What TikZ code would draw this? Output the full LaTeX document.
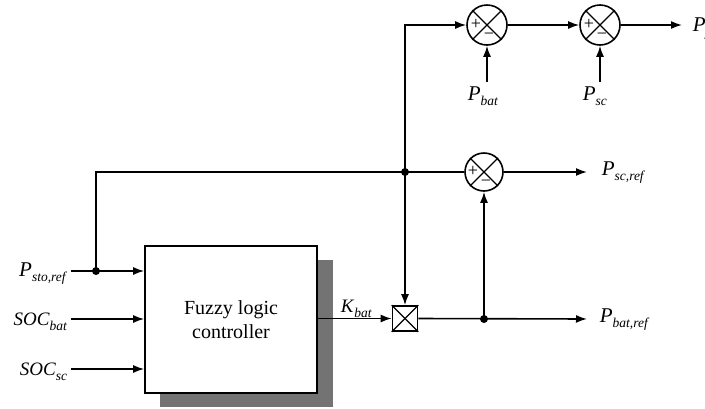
\documentclass[tikz,border=0pt]{standalone}
\usepackage{fontspec}
\setmainfont{Liberation Serif}
\usetikzlibrary{arrows.meta,calc}
\newcommand{\lbl}[2]{\textit{#1}\raisebox{-5pt}{\fontsize{13.5}{14}\selectfont\textit{#2}}}
\begin{document}
\begin{tikzpicture}[x=1pt,y=-1pt,
  line width=1.6pt,
  arr/.style={-{Latex[length=11pt,width=8pt]}},
  sumc/.style={circle,draw,line width=1.6pt,minimum size=40pt,inner sep=0pt},
  mulbox/.style={rectangle,draw,line width=1.6pt,minimum size=25pt,inner sep=0pt},
  dot/.style={circle,fill=black,inner sep=0pt,minimum size=8pt},
  lab/.style={font=\fontsize{21}{22}\selectfont,inner sep=0pt},
  sgn/.style={font=\fontsize{18}{18}\selectfont,inner sep=0pt}
]
\useasboundingbox (0,0) rectangle (705,408);
% shadow and fuzzy block
\fill[gray!90!black] (160,260) rectangle (333,407);
\node[draw,fill=white,line width=1.6pt,minimum width=172pt,minimum height=147pt,inner sep=0pt,
  align=center,font=\fontsize{20}{24}\selectfont] (fz) at (231,319.5) {Fuzzy logic\\controller};
% summing junctions
\node[sumc] (s1) at (487,25) {};
\node[sumc] (s2) at (600,25) {};
\node[sumc,minimum size=38pt] (s3) at (484,172) {};
\foreach \s in {s1,s2,s3}{
  \draw[line width=1.3pt] (\s.north west) -- (\s.south east);
  \draw[line width=1.3pt] (\s.north east) -- (\s.south west);
  \node[sgn] at ($(\s.center)+(-11,-1)$) {+};
  \node[sgn] at ($(\s.center)+(2,11)$) {\textminus};
}
% multiplier
\node[mulbox] (m) at (405,318.5) {};
\draw[line width=1.3pt] (m.north west) -- (m.south east);
\draw[line width=1.3pt] (m.north east) -- (m.south west);
% coordinates
\coordinate (i1) at (71,271);
\coordinate (i2) at (71,319);
\coordinate (i3) at (71,369);
\node[dot] (d1) at (96,271) {};
\node[dot] (d2) at (405,172) {};
\node[dot] (d3) at (484,319) {};
\coordinate (c1) at (96,172);
\coordinate (c2) at (405,25);
\coordinate (o1) at (682,25);
\coordinate (o2) at (587,172);
\coordinate (o3) at (587,319);
\coordinate (pb) at (487,82);
\coordinate (ps) at (600,82);
% inputs
\draw[arr] (i1) -- (fz.west |- i1);
\draw[arr] (i2) -- (fz.west |- i2);
\draw[arr] (i3) -- (fz.west |- i3);
\draw (d1.center) -- (c1) -- (d2.center) -- (s3.west);
\draw[arr] (d2.center) -- (m.north);
\draw[arr] (d2.center) -- (c2) -- (s1.west);
\draw[arr] (s1.east) -- (s2.west);
\draw[arr] (s2.east) -- (o1);
\draw[arr] (pb) -- (s1.south);
\draw[arr] (ps) -- (s2.south);
\draw[arr] (s3.east) -- (o2);
\draw[arr] (fz.east |- m.west) -- (m.west);
\draw[arr] (m.east) -- (o3);
\draw[arr] (d3.center) -- (s3.south);
% labels
\node[lab,anchor=base east] (l1) at (68,276) {\lbl{P}{sto,ref}};
\node[lab,anchor=base east,font=\fontsize{19}{20}\selectfont] (l2) at (68,325) {\lbl{SOC}{bat}};
\node[lab,anchor=base east,font=\fontsize{19}{20}\selectfont] (l3) at (68,375) {\lbl{SOC}{sc}};
\node[lab,anchor=base west,font=\fontsize{19}{20}\selectfont] (l4) at (340,312) {\lbl{K}{bat}};
\node[lab,anchor=base west] (l5) at (601,175) {\lbl{P}{sc,ref}};
\node[lab,anchor=base west] (l6) at (599,322) {\lbl{P}{bat,ref}};
\node[lab,anchor=base west] (l7) at (467,100) {\lbl{P}{bat}};
\node[lab,anchor=base west] (l8) at (582,100) {\lbl{P}{sc}};
\node[lab,anchor=base west] (l9) at (692,31) {\lbl{P}{y}};
\end{tikzpicture}
\end{document}
